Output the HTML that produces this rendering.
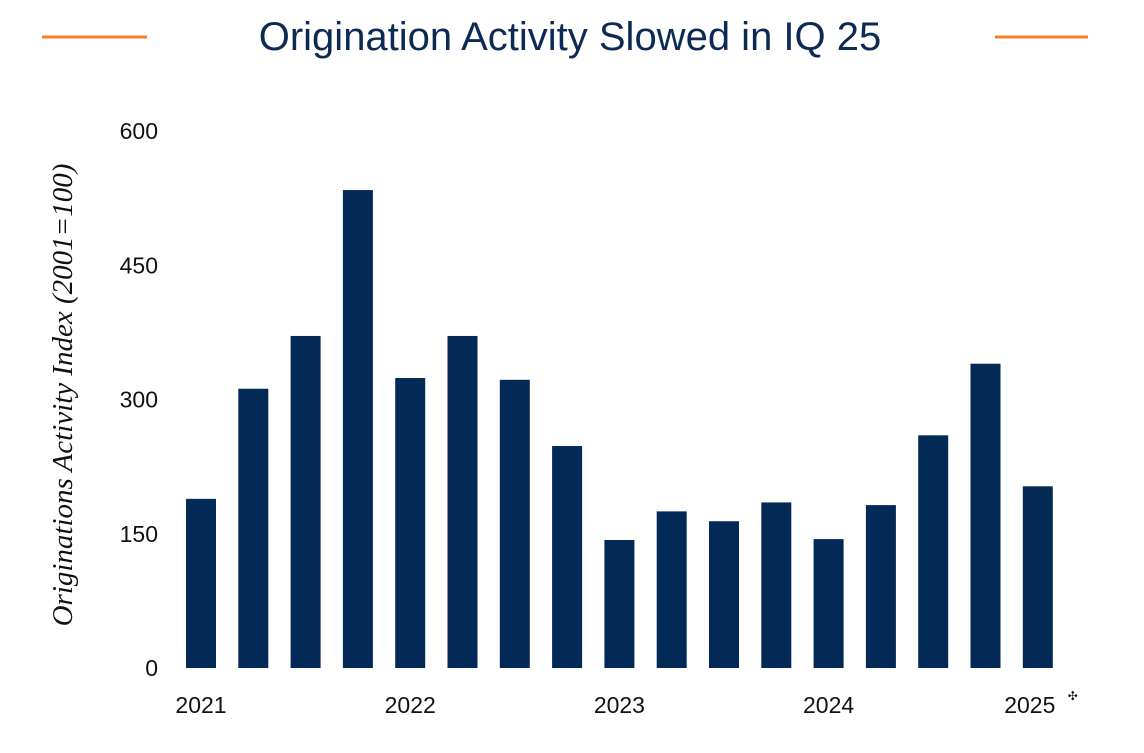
<!DOCTYPE html>
<html><head><meta charset="utf-8"><style>
body{margin:0;background:#fff;width:1144px;height:748px;overflow:hidden;font-family:"Liberation Sans",sans-serif}
</style></head><body>
<svg width="1144" height="748" id="chart">
<line x1="42" y1="37" x2="147" y2="37" stroke="#f47f2a" stroke-width="3"/>
<line x1="995" y1="37" x2="1088" y2="37" stroke="#f47f2a" stroke-width="3"/>
<text x="570" y="50" text-anchor="middle" font-size="40" fill="#0d2a55" font-family="Liberation Sans, sans-serif">Origination Activity Slowed in IQ 25</text>
<text transform="translate(72,395) rotate(-90)" text-anchor="middle" font-size="29" font-style="italic" font-family="Liberation Serif, serif" fill="#111">Originations Activity Index (2001=100)</text>
<g id="yt"></g><g id="bars"></g><g id="xt"></g>
</svg>
<script>
const values=[189,312,371,534,324,371,322,248,143,175,164,185,144,182,260,340,203];
const yTicks=[0,150,300,450,600];
const xLabels=[[0,"2021"],[4,"2022"],[8,"2023"],[12,"2024"],[16,"2025"]];
const NS="http://www.w3.org/2000/svg";
const y=v=>668-v*0.895;
const x=i=>186+i*52.3;
const bw=30;
const yt=document.getElementById('yt'),bars=document.getElementById('bars'),xt=document.getElementById('xt');
yTicks.forEach(t=>{const e=document.createElementNS(NS,'text');


e.setAttribute('x',158);e.setAttribute('y',y(t)+8);e.setAttribute('text-anchor','end');e.setAttribute('font-size','23');e.setAttribute('fill','#111');e.textContent=t;yt.appendChild(e);});
values.forEach((v,i)=>{const r=document.createElementNS(NS,'rect');


r.setAttribute('x',x(i));r.setAttribute('y',y(v));r.setAttribute('width',bw);r.setAttribute('height',668-y(v));r.setAttribute('fill','#032a56');bars.appendChild(r);});
xLabels.forEach(([i,l])=>{const e=document.createElementNS(NS,'text');


e.setAttribute('x',x(i)+bw/2-(i==16?8:0));e.setAttribute('y',713);e.setAttribute('text-anchor','middle');e.setAttribute('font-size','23');e.setAttribute('fill','#111');e.textContent=l;xt.appendChild(e);
if(i==16){const s=document.createElementNS(NS,'text');


s.setAttribute('x',x(i)+bw/2+30);s.setAttribute('y',700);s.setAttribute('font-size','12');s.setAttribute('fill','#111');s.textContent='✣';xt.appendChild(s);}});
</script>
</body></html>
